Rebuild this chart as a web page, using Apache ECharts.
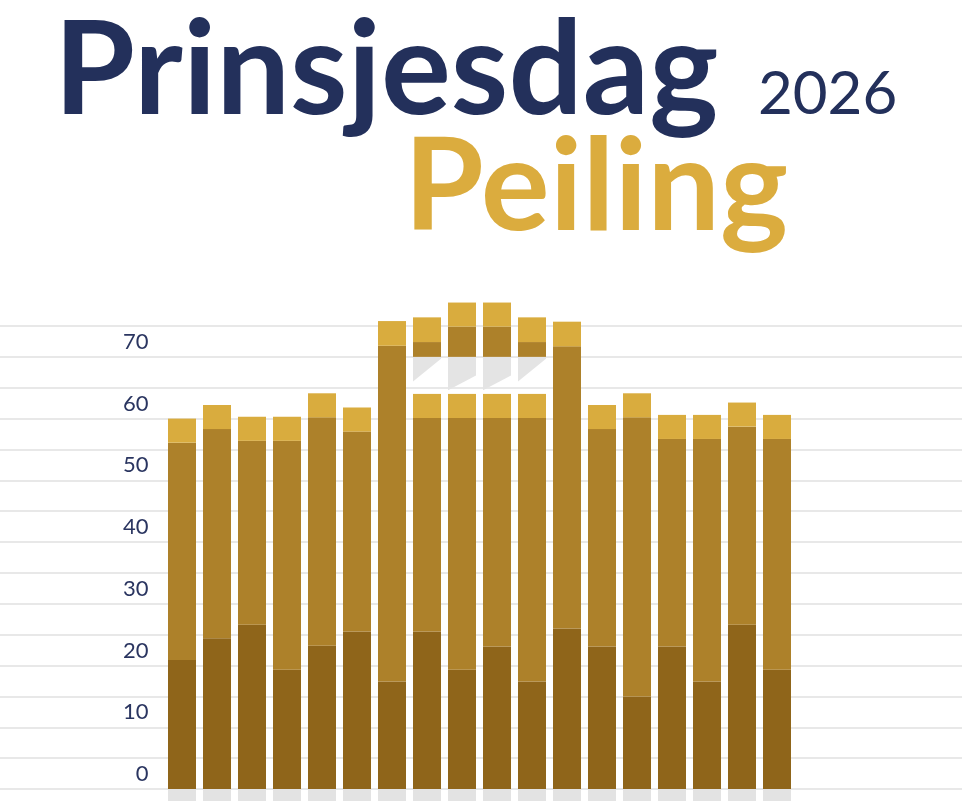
<!DOCTYPE html>
<html>
<head>
<meta charset="utf-8">
<script src="https://cdn.jsdelivr.net/npm/echarts@6/dist/echarts.min.js"></script>
<style>
html,body{margin:0;padding:0;background:#fff;}
#chart{width:962px;height:801px;}
</style>
</head>
<body>
<div id="chart"></div>
<script>
// ---- data ----
var categories = ['1','2','3','4','5','6','7','8','9','10','11','12','13','14','15','16','17','18'];
var darkValues = [20.9, 24.4, 26.6, 19.3, 23.2, 25.5, 17.4, 25.5, 19.3, 23.1, 17.4, 26.0, 23.1, 15.0, 23.1, 17.4, 26.6, 19.3];
var midValues  = [35.2, 33.9, 29.8, 37.1, 37.0, 32.4, 54.4, 34.6, 40.8, 37.0, 42.7, 45.7, 35.2, 45.2, 33.6, 39.3, 32.1, 37.4];
var goldValues = [3.9, 3.9, 3.9, 3.9, 3.9, 3.9, 4.0, 3.9, 3.9, 3.9, 3.9, 4.0, 3.9, 3.9, 3.9, 3.9, 3.9, 3.9];
var gapValues  = [0, 0, 0, 0, 0, 0, 0, 6.0, 6.0, 6.0, 6.0, 0, 0, 0, 0, 0, 0, 0];
var roofMidValues  = [0, 0, 0, 0, 0, 0, 0, 2.4, 4.9, 4.9, 2.4, 0, 0, 0, 0, 0, 0, 0];
var roofGoldValues = [0, 0, 0, 0, 0, 0, 0, 4.0, 3.9, 3.9, 4.0, 0, 0, 0, 0, 0, 0, 0];
// shadow under roof pieces: [category index, roof base value, depth at left edge, depth at right edge]
var shadowValues = [[7, 70, 4.0, 0.3], [8, 70, 5.4, 3.0], [9, 70, 5.4, 3.0], [10, 70, 4.0, 0.3]];
var floorValues = categories.map(function(){ return -2.5; });
var yTicks = [0, 10, 20, 30, 40, 50, 60, 70];

var navy = '#23305b';
var cDark = '#8f651a', cMid = '#ad812a', cGold = '#d9ac3e';

var chart = echarts.init(document.getElementById('chart'), null, {renderer: 'canvas'});

function barSeries(name, data, color, stack) {
  return {
    name: name, type: 'bar', stack: stack || 'total', xAxisIndex: 1, yAxisIndex: 1,
    data: data, barWidth: 28, clip: false, silent: true,
    itemStyle: {color: color}
  };
}

var option = {
  animation: false,
  backgroundColor: '#ffffff',
  graphic: [
    {type: 'text', x: 54, y: 72, style: {text: 'Prinsjesdag', fill: navy, font: 'bold 131px Lato', textAlign: 'left', textVerticalAlign: 'middle'}},
    {type: 'text', x: 758, y: 95, style: {text: '2026', fill: navy, font: '60px Lato', textAlign: 'left', textVerticalAlign: 'middle'}},
    {type: 'text', x: 404, y: 188, style: {text: 'Peiling', fill: '#dbac3e', font: 'bold 129px Lato', textAlign: 'left', textVerticalAlign: 'middle'}}
  ],
  grid: [
    {left: 0, right: 0, top: 326, bottom: 12, containLabel: false},
    {left: 164.5, width: 630, top: 326, bottom: 12, containLabel: false}
  ],
  xAxis: [
    {type: 'category', gridIndex: 0, data: ['a'], show: false},
    {type: 'category', gridIndex: 1, data: categories, show: false}
  ],
  yAxis: [
    {type: 'value', gridIndex: 0, min: 0, max: 75, interval: 5,
     axisLine: {show: false}, axisTick: {show: false}, axisLabel: {show: false},
     splitLine: {show: true, lineStyle: {color: '#e8e8e8', width: 2}}},
    {type: 'value', gridIndex: 1, min: 0, max: 75, interval: 5,
     axisLine: {show: false}, axisTick: {show: false}, splitLine: {show: false},
     axisLabel: {show: true, customValues: yTicks, color: '#2a3560', fontFamily: 'Lato', fontSize: 22,
       margin: 16, verticalAlign: 'bottom', lineHeight: 22, padding: [0, 0, 4, 0]}}
  ],
  series: [
    barSeries('floor', floorValues, '#e3e3e3'),
    barSeries('dark', darkValues, cDark),
    barSeries('mid', midValues, cMid),
    barSeries('gold', goldValues, cGold),
    barSeries('gap', gapValues, 'rgba(0,0,0,0)'),
    barSeries('roofMid', roofMidValues, cMid),
    barSeries('roofGold', roofGoldValues, cGold),
    {
      type: 'custom', xAxisIndex: 1, yAxisIndex: 1, data: shadowValues, silent: true, clip: false,
      renderItem: function(params, api) {
        var idx = api.value(0), base = api.value(1), dl = api.value(2), dr = api.value(3);
        var band = api.size([1, 0])[0];
        var w = band * 0.8;
        var c = api.coord([idx, base]);
        var yl = api.coord([idx, base - dl])[1];
        var yr = api.coord([idx, base - dr])[1];
        return {
          type: 'polygon',
          shape: {points: [[c[0] - w / 2, c[1]], [c[0] + w / 2, c[1]], [c[0] + w / 2, yr], [c[0] - w / 2, yl]]},
          style: {fill: '#e4e4e4'}
        };
      }
    }
  ]
};
chart.setOption(option);
</script>
</body>
</html>
